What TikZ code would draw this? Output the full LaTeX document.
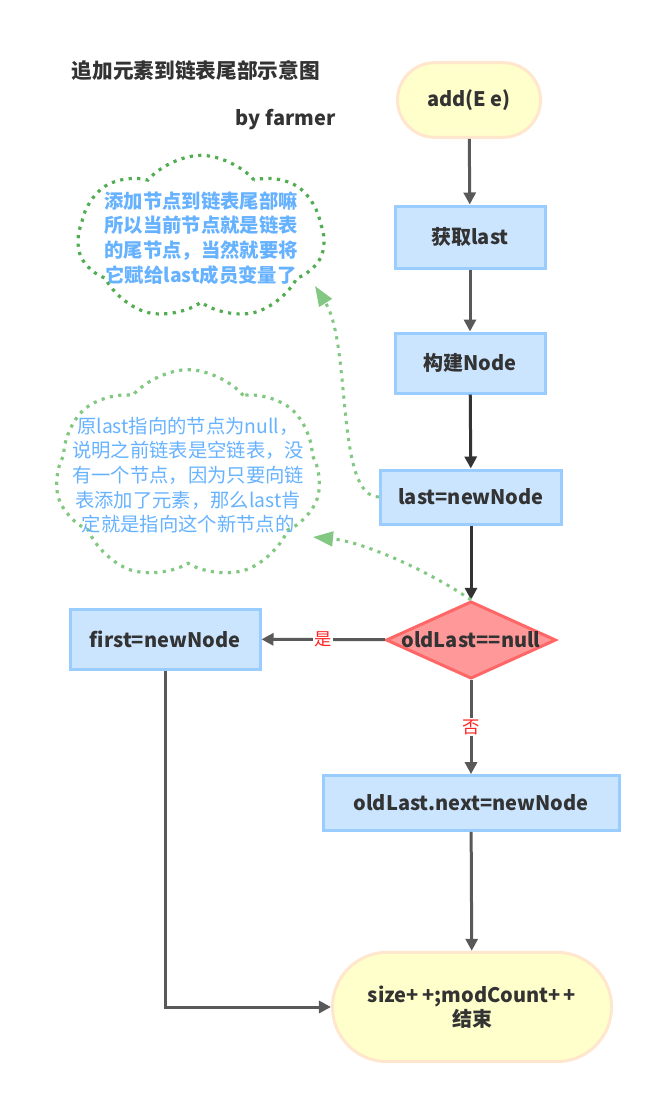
\documentclass[tikz,border=0pt]{standalone}
\usepackage{fontspec}
\setmainfont{Noto Sans CJK SC}
\usetikzlibrary{shapes.geometric,shapes.misc,shapes.symbols,arrows.meta,positioning}
\definecolor{boxfill}{HTML}{CCE5FF}
\definecolor{boxline}{HTML}{99CCFF}
\definecolor{termfill}{HTML}{FFFFCC}
\definecolor{termline}{HTML}{FFE6CC}
\definecolor{decfill}{HTML}{FF9999}
\definecolor{decline}{HTML}{FF6666}
\definecolor{flowgray}{HTML}{595959}
\definecolor{darkline}{HTML}{333333}
\definecolor{notedark}{HTML}{52AD52}
\definecolor{notelight}{HTML}{82C882}
\definecolor{noteblue}{HTML}{66B2FF}
\definecolor{answerred}{HTML}{FF2222}

\begin{document}
\begin{tikzpicture}[x=0.75pt,y=-0.75pt,>={Triangle[length=9pt,width=9pt]},
	every node/.style={font=\bfseries\fontsize{15}{17.5}\selectfont,text=darkline},
	terminal/.style={rounded rectangle,fill=termfill,draw=termline,line width=2.25pt},
	process/.style={rectangle,fill=boxfill,draw=boxline,line width=2.25pt},
	decision/.style={diamond,fill=decfill,draw=decline,line width=2.25pt,inner sep=0pt},
	flow/.style={->,draw=flowgray,line width=2.25pt},
	answer/.style={font=\fontsize{13}{15}\selectfont,text=answerred,fill=white,inner sep=1pt},
	note/.style={cloud,cloud puffs=7,cloud puff arc=100,line width=2.4pt,dash pattern=on 2.4pt off 4pt,inner sep=0pt},
	notelink/.style={-{Triangle[length=15pt,width=11pt]},draw=notelight,line width=2.25pt,dash pattern=on 2.4pt off 4pt},
	notetext/.style={align=center,text=noteblue,font=\fontsize{14.5}{18.5}\selectfont}]
	\useasboundingbox (0,0) rectangle (656,1099);

	% title
	\node[anchor=west,font=\bfseries\fontsize{15.5}{18}\selectfont] (title) at (67,71) {追加元素到链表尾部示意图};
	\node[anchor=east] (author) at (340,120) {by farmer};

	% main flow
	\node[terminal,minimum width=114pt,minimum height=56pt] (add) at (469,100) {add(E e)};
	\node[process,minimum width=112.5pt,minimum height=46.5pt] (getLast) at (470,237) {获取last};
	\node[process,minimum width=112.5pt,minimum height=45pt] (build) at (470,363) {构建Node};
	\node[process,minimum width=136pt,minimum height=40.5pt] (setLast) at (471,497) {last=newNode};
	\node[decision,minimum width=127.5pt,minimum height=58pt,label={center:oldLast==null}] (check) at (471,640) {};
	\node[process,minimum width=142.5pt,minimum height=45pt] (first) at (165,639) {first=newNode};
	\node[process,minimum width=222pt,minimum height=41pt] (next) at (471,803) {oldLast.next=newNode};
	\node[terminal,minimum width=216pt,minimum height=82pt,align=center] (finish) at (472,1007) {size+\,+;modCount+\,+\\结束};

	% notes
	\node[note,draw=notedark,minimum width=185pt,minimum height=124pt,
		label={[notetext,font=\bfseries\fontsize{14.5}{18.5}\selectfont]center:添加节点到链表尾部嘛\\所以当前节点就是链表\\的尾节点，当然就要将\\它赋给last成员变量了}] (noteA) at (201,238) {};
	\node[note,draw=notelight,minimum width=199pt,minimum height=158pt,
		label={[notetext]center:原last指向的节点为null，\\说明之前链表是空链表，没\\有一个节点，因为只要向链\\表添加了元素，那么last肯\\定就是指向这个新节点的}] (noteB) at (188,475) {};
	\coordinate (tipA) at (315,286);
	\coordinate (tipB) at (313,537);

	\draw[flow] (add) -- (getLast);
	\draw[flow] (getLast) -- (build);
	\draw[flow,draw=darkline] (build) -- (setLast);
	\draw[flow,draw=darkline] (setLast) -- (check);
	\draw[flow] (check) -- node[answer]{是} (first);
	\draw[flow] (check) -- node[answer]{否} (next);
	\draw[flow] (next) -- (finish);
	\draw[flow] (first) |- (finish);

	\draw[notelink] (setLast.west) .. controls (335,497) and (352,345) .. (tipA);
	\draw[notelink] (check.north) .. controls (430,572) and (365,542) .. (tipB);
\end{tikzpicture}
\end{document}
